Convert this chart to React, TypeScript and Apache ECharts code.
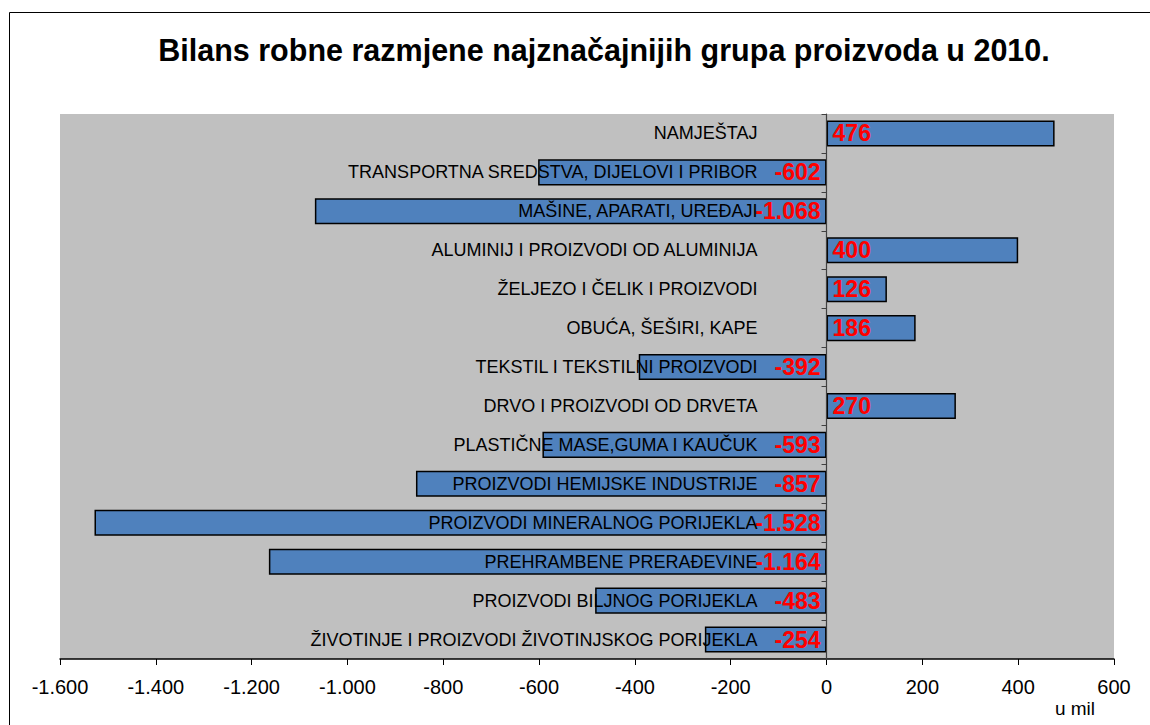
import React, { useEffect, useRef } from "react";
import * as echarts from "echarts";

const title = "Bilans robne razmjene najznačajnijih grupa proizvoda u 2010.";
const categories = [
  "NAMJEŠTAJ",
  "TRANSPORTNA SREDSTVA, DIJELOVI I PRIBOR",
  "MAŠINE, APARATI, UREĐAJI",
  "ALUMINIJ I PROIZVODI OD ALUMINIJA",
  "ŽELJEZO I ČELIK I PROIZVODI",
  "OBUĆA, ŠEŠIRI, KAPE",
  "TEKSTIL I TEKSTILNI PROIZVODI",
  "DRVO I PROIZVODI OD DRVETA",
  "PLASTIČNE MASE,GUMA I KAUČUK",
  "PROIZVODI HEMIJSKE INDUSTRIJE",
  "PROIZVODI MINERALNOG PORIJEKLA",
  "PREHRAMBENE PRERAĐEVINE",
  "PROIZVODI BILJNOG PORIJEKLA",
  "ŽIVOTINJE I PROIZVODI ŽIVOTINJSKOG PORIJEKLA",
];
const values = [476, -602, -1068, 400, 126, 186, -392, 270, -593, -857, -1528, -1164, -483, -254];
const axisMin = -1600;
const axisMax = 600;
const axisStep = 200;
const unitLabel = "u mil";

const fmt = (v: number) => {
  const s = Math.abs(Math.round(v)).toString().replace(/\B(?=(\d{3})+(?!\d))/g, ".");
  return (v < 0 ? "-" : "") + s;
};

export default function App() {
  const ref = useRef<HTMLDivElement>(null);
  useEffect(() => {
    if (!ref.current) return;
    const chart = echarts.init(ref.current, null, { renderer: "svg" });
    const font = "Arial, 'Liberation Sans', sans-serif";
    chart.setOption({
      animation: false,
      textStyle: { fontFamily: font },
      grid: {
        left: 60,
        right: 36,
        top: 114,
        bottom: 66,
        containLabel: false,
        outerBoundsMode: "none",
        show: true,
        backgroundColor: "#C0C0C0",
        borderWidth: 0,
      },
      xAxis: {
        type: "value",
        min: axisMin,
        max: axisMax,
        interval: axisStep,
        splitLine: { show: false },
        axisLine: { show: true, onZero: false, lineStyle: { color: "#000", width: 1.5 } },
        axisTick: { show: true, length: 6, lineStyle: { color: "#000" } },
        axisLabel: {
          color: "#000",
          fontSize: 20,
          margin: 18,
          fontFamily: font,
          formatter: (v: number) => fmt(v),
        },
      },
      yAxis: {
        type: "category",
        data: categories,
        inverse: true,
        z: 4,
        axisLine: { show: true, onZero: true, lineStyle: { color: "#404040", width: 1.2 } },
        axisTick: { show: true, length: 5, lineStyle: { color: "#404040" } },
        axisLabel: { show: false },
        splitLine: { show: false },
      },
      series: [
        {
          type: "bar",
          data: values,
          barCategoryGap: "33%",
          z: 2,
          itemStyle: { color: "#4F81BD", borderColor: "#000", borderWidth: 1.5 },
        },
        {
          type: "bar",
          data: categories.map((c) => ({ value: 0, name: c })),
          barCategoryGap: "33%",
          barGap: "-100%",
          z: 5,
          silent: true,
          itemStyle: { color: "rgba(0,0,0,0)", borderWidth: 0 },
          label: {
            show: true,
            position: "left",
            distance: 69,
            color: "#000",
            fontSize: 18,
            fontFamily: font,
            formatter: (p: any) => p.name,
          },
        },
        {
          type: "bar",
          data: values.map((v) => ({
            value: v,
            label: { position: v < 0 ? "insideRight" : "insideLeft" },
          })),
          barCategoryGap: "33%",
          barGap: "-100%",
          z: 6,
          silent: true,
          itemStyle: { color: "rgba(0,0,0,0)", borderWidth: 0 },
          label: {
            show: true,
            distance: 6,
            color: "#FF0000",
            fontSize: 23,
            fontWeight: "bold",
            fontFamily: font,
            formatter: (p: any) => fmt(p.value),
          },
        },
      ],
      graphic: [
        {
          type: "rect",
          shape: { x: 9.5, y: 12.5, width: 1200, height: 800 },
          style: { fill: "none", stroke: "#000", lineWidth: 1 },
          silent: true,
        },
        {
          type: "text",
          x: 604,
          y: 50,
          style: {
            text: title,
            fontSize: 30.5,
            fontWeight: "bold",
            fontFamily: font,
            fill: "#000",
            align: "center",
            verticalAlign: "middle",
          },
        },
        {
          type: "text",
          x: 1075,
          y: 708,
          style: {
            text: unitLabel,
            fontSize: 19,
            fontFamily: font,
            fill: "#000",
            align: "center",
            verticalAlign: "middle",
          },
        },
      ],
    });
    return () => chart.dispose();
  }, []);
  return (
    <div
      ref={ref}
      style={{ position: "absolute", left: 0, top: 0, width: 1150, height: 725 }}
    />
  );
}
